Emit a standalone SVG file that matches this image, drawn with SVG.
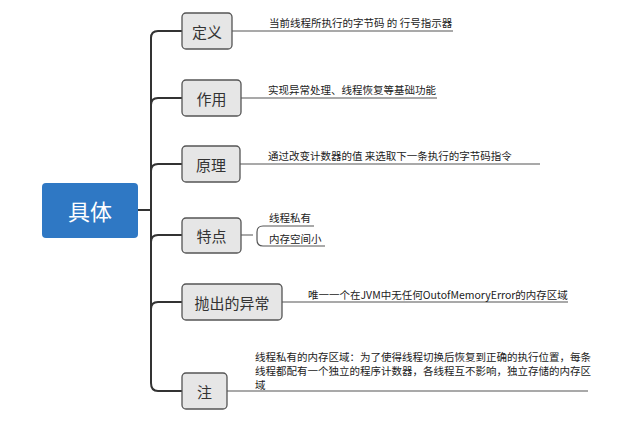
<svg xmlns="http://www.w3.org/2000/svg" width="640" height="423" viewBox="0 0 640 423">
<style>
.box{fill:#e6e6e6;stroke:#555;stroke-width:1.3}
.bt{font-family:"Noto Sans CJK SC",sans-serif;font-size:15px;fill:#333;text-anchor:middle;dominant-baseline:central}
.t{font-family:"Noto Sans CJK SC",sans-serif;font-size:10.5px;fill:#222}
.c{fill:none;stroke:#333;stroke-width:2}
.u{fill:none;stroke:#555;stroke-width:1.2}
</style>
<rect width="640" height="423" fill="#fff"/>
<g id="connectors">
<path class="c" d="M138 210H151"/>
<path class="c" d="M182 31H158Q151 31 151 38V383Q151 391 158 391H182"/>
<path class="c" d="M151 105Q151 98 158 98H182"/>
<path class="c" d="M151 171Q151 164 158 164H182"/>
<path class="c" d="M151 242Q151 235 158 235H182"/>
<path class="c" d="M151 309Q151 302 158 302H182"/>
<path class="u" d="M232 31H453M241 98H437M240 164H540M282 302H568M227 391H588"/>
<path class="u" d="M241 235H253M263 226Q257 226 257 232V240Q257 246 263 246H325M263 226H314"/>
</g>
<g id="root"><rect x="42" y="183" width="96" height="55" rx="4" fill="#2f78c4"/><text x="90" y="210" class="bt" style="fill:#fff;font-size:22px">具体</text></g>
<g id="n1"><rect class="box" x="182" y="13" width="50" height="36" rx="4"/><text x="207" y="31" class="bt">定义</text><text x="269" y="27" class="t">当前线程所执行的字节码 的 行号指示器</text></g>
<g id="n2"><rect class="box" x="182" y="80" width="59" height="36" rx="4"/><text x="211.5" y="98" class="bt">作用</text><text x="268" y="94" class="t">实现异常处理、线程恢复等基础功能</text></g>
<g id="n3"><rect class="box" x="182" y="146" width="58" height="36" rx="4"/><text x="211" y="164" class="bt">原理</text><text x="268" y="160" class="t">通过改变计数器的值 来选取下一条执行的字节码指令</text></g>
<g id="n4"><rect class="box" x="182" y="218" width="59" height="35" rx="4"/><text x="211.5" y="235.5" class="bt">特点</text><text x="269" y="222" class="t">线程私有</text><text x="269" y="243" class="t">内存空间小</text></g>
<g id="n5"><rect class="box" x="182" y="284" width="100" height="36" rx="4"/><text x="232" y="302" class="bt">抛出的异常</text><text x="308" y="299" class="t">唯一一个在JVM中无任何OutofMemoryError的内存区域</text></g>
<g id="n6"><rect class="box" x="182" y="373" width="45" height="36" rx="4"/><text x="204.5" y="391" class="bt">注</text><text class="t"><tspan x="255" y="361">线程私有的内存区域：为了使得线程切换后恢复到正确的执行位置，每条</tspan><tspan x="255" y="375">线程都配有一个独立的程序计数器，各线程互不影响，独立存储的内存区</tspan><tspan x="255" y="389">域</tspan></text></g>
</svg>
